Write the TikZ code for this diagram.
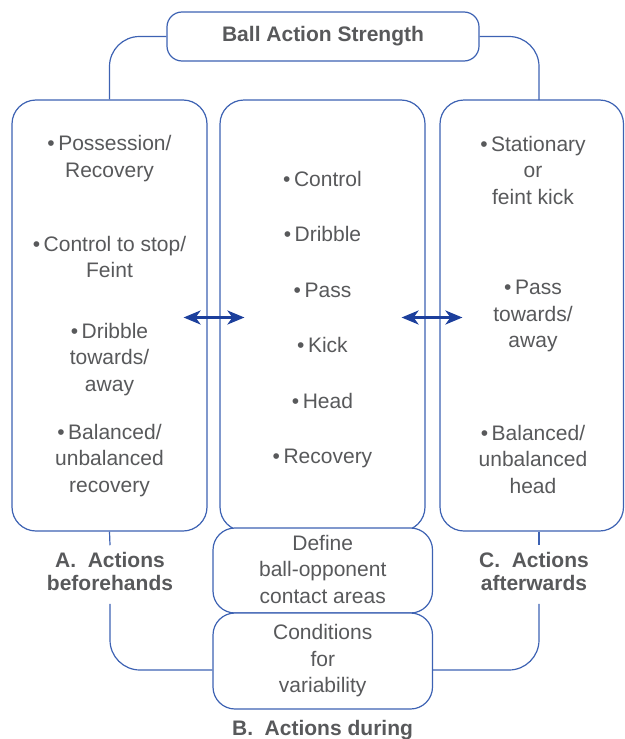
\documentclass[tikz,border=0pt]{standalone}
\usepackage{fontspec}
\setmainfont{Liberation Sans}
\usepackage{tikz}
\usetikzlibrary{arrows.meta}
\definecolor{boxblue}{HTML}{3D62B3}
\definecolor{arrblue}{HTML}{1C3F9C}
\definecolor{txtgray}{HTML}{58595B}

\begin{document}
\begin{tikzpicture}[x=1pt,y=-1pt,
  box/.style={draw=boxblue, line width=1.2pt, fill=white, rounded corners=24pt, inner sep=0pt},
  item/.style={text=txtgray, align=center, inner sep=0pt, font=\fontsize{21}{26.5}\selectfont,
    execute at begin node=\strut, execute at end node=\strut},
  lab/.style={item, font=\fontsize{21}{23}\selectfont\bfseries},
  conn/.style={draw=boxblue, line width=1.2pt},
  dbl/.style={arrblue, line width=2.6pt,
    {Stealth[length=17pt,width=14pt,inset=5pt]}-{Stealth[length=17pt,width=14pt,inset=5pt]}}]
  \useasboundingbox (0,0) rectangle (624,739);

  % the three columns
  \node[box, minimum width=195pt, minimum height=431pt] (lbox) at (109.5,315.5) {};
  \node[box, minimum width=205pt, minimum height=431pt] (mbox) at (322.5,315.5) {};
  \node[box, minimum width=183.5pt, minimum height=431pt] (rbox) at (531.75,315.5) {};

  % title box
  \node[box, lab, rounded corners=15pt, minimum width=312pt, minimum height=49pt] (top) at (323,36.5) {Ball Action Strength};

  % boxes under the middle column
  \node[box, rounded corners=22pt, minimum width=219.5pt, minimum height=85pt] (define) at (322.75,570.5) {};
  \node[box, rounded corners=22pt, minimum width=219.5pt, minimum height=96pt] (cond) at (322.75,661) {};
  \node[item] (definetxt) at (322.75,573) {Define\\ball-opponent\\contact areas};
  \node[item] (condtxt) at (322.75,662.5) {Conditions\\for\\variability};

  % column labels
  \node[lab, inner ysep=6.5pt] (labA) at (110,574.5) {A.\ \ Actions\\beforehands};
  \node[lab, inner ysep=6.5pt] (labC) at (534,574.5) {C.\ \ Actions\\afterwards};
  \node[lab] (labB) at (322.5,731) {B.\ \ Actions during};

  % links round the columns
  \coordinate (rlink) at (539,100);
  \draw[conn, rounded corners=30pt] (top.west) -| (lbox.north);
  \draw[conn, rounded corners=30pt] (top.east) -| (rlink);
  \draw[conn] (lbox.south) -- (labA.north);
  \draw[conn, rounded corners=30pt] (labA.south) |- ([yshift=-9pt]cond.west);
  \draw[conn] (rlink |- rbox.south) -- (rlink |- labC.north);
  \draw[conn, rounded corners=30pt] (rlink |- labC.south) |- ([yshift=-9pt]cond.east);

  % A. items
  \node[item] (a1) at (109.5,160.5) {•\,Possession/\\Recovery};
  \node[item] (a2) at (109.5,261) {•\,Control to stop/\\Feint};
  \node[item] (a3) at (109.5,361) {•\,Dribble\\towards/\\away};
  \node[item] (a4) at (109.5,462) {•\,Balanced/\\unbalanced\\recovery};

  % B. items
  \node[item] (b1) at (322.5,181) {•\,Control};
  \node[item] (b2) at (322.5,236) {•\,Dribble};
  \node[item] (b3) at (322.5,292) {•\,Pass};
  \node[item] (b4) at (322.5,347) {•\,Kick};
  \node[item] (b5) at (322.5,403) {•\,Head};
  \node[item] (b6) at (322.5,458) {•\,Recovery};

  % C. items
  \node[item] (c1) at (533,174) {•\,Stationary\\or\\feint kick};
  \node[item] (c2) at (533,318) {•\,Pass\\towards/\\away};
  \node[item] (c3) at (533,463) {•\,Balanced/\\unbalanced\\head};

  % arrows between the columns
  \draw[dbl] ([xshift=-24pt,yshift=-2pt]lbox.east) -- ([xshift=25pt,yshift=-2pt]mbox.west);
  \draw[dbl] ([xshift=-24pt,yshift=-2pt]mbox.east) -- ([xshift=23pt,yshift=-2pt]rbox.west);
\end{tikzpicture}
\end{document}
